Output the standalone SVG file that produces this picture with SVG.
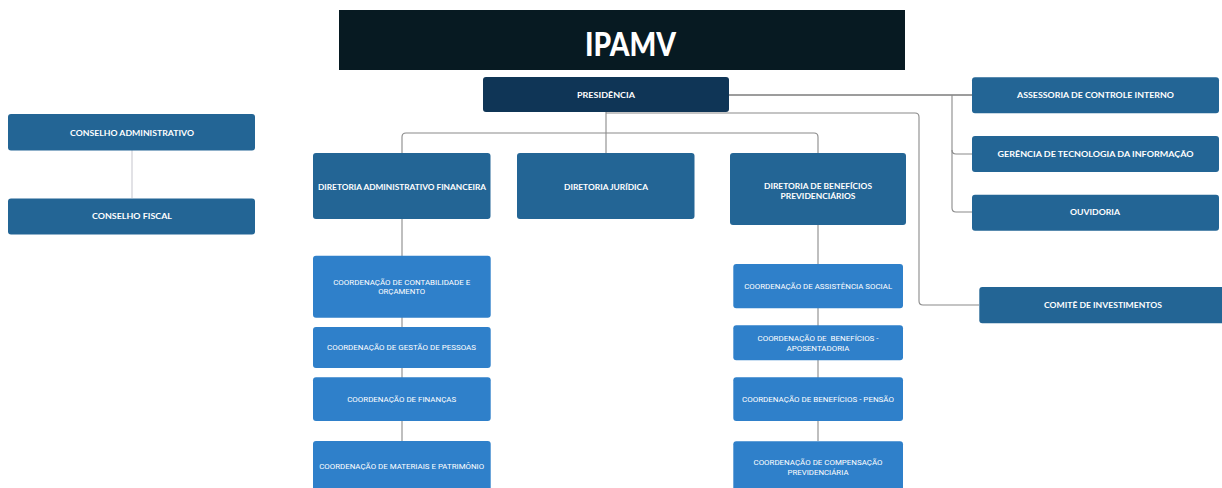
<svg xmlns="http://www.w3.org/2000/svg" width="1222" height="488" viewBox="0 0 1222 488">
<style>
.hdr{fill:#071a22}
.pres{fill:#0f3556}
.dk{fill:#236595}
.lt{fill:#2f80ca}
.t{font-family:Lato,"Noto Sans","Liberation Sans",sans-serif;font-weight:700;font-size:8px;fill:#ffffff;text-anchor:middle}
.c{font-family:Roboto,"Liberation Sans",sans-serif;font-weight:400;font-size:7.4px;fill:#ffffff;text-anchor:middle}
.ln{fill:none;stroke:#8a8a8a;stroke-width:1.1}
.lnd{fill:none;stroke:#3a3a3a;stroke-width:1}
.lnl{fill:none;stroke:#cfcfd6;stroke-width:1.2}
</style>
<rect width="1222" height="488" fill="#ffffff"/>
<g id="connectors">
<path class="lnl" d="M132,150 V198"/>
<path class="ln" d="M606,112 V153"/>
<path class="ln" d="M402,153 V137 Q402,133 406,133 H814 Q818,133 818,137 V153"/>
<path class="ln" d="M402,219 V441"/>
<path class="ln" d="M818,225 V441"/>
<path class="lnd" d="M729,95 H972"/>
<path class="ln" d="M952,95 V208 Q952,212 956,212 H972"/>
<path class="ln" d="M952,150 Q952,154 956,154 H972"/>
<path class="ln" d="M606,113 H915 Q919,113 919,117 V301 Q919,305 923,305 H979"/>
</g>
<g id="header">
<rect class="hdr" x="339" y="10" width="566" height="60"/>
<text x="630.5" y="56" textLength="91" lengthAdjust="spacingAndGlyphs" style="font-family:Lato,'Liberation Sans',sans-serif;font-weight:900;font-size:33px;fill:#ffffff;text-anchor:middle">IPAMV</text>
</g>
<g id="presidencia">
<rect class="pres" x="483" y="77" width="246" height="35" rx="3"/>
<text class="t" x="606" y="97.5" textLength="58" lengthAdjust="spacingAndGlyphs">PRESIDÊNCIA</text>
</g>
<g id="conselho-adm">
<rect class="dk" x="8" y="114" width="247" height="36.5" rx="3"/>
<text class="t" x="132" y="135.5" textLength="124" lengthAdjust="spacingAndGlyphs">CONSELHO ADMINISTRATIVO</text>
</g>
<g id="conselho-fiscal">
<rect class="dk" x="8" y="198.5" width="247" height="36" rx="3"/>
<text class="t" x="132" y="219.3" textLength="80" lengthAdjust="spacingAndGlyphs">CONSELHO FISCAL</text>
</g>
<g id="dir-adm">
<rect class="dk" x="313" y="153" width="177.5" height="66" rx="3"/>
<text class="t" x="402" y="189.5" textLength="168" lengthAdjust="spacingAndGlyphs">DIRETORIA ADMINISTRATIVO FINANCEIRA</text>
</g>
<g id="dir-jur">
<rect class="dk" x="517" y="153" width="177.5" height="66" rx="3"/>
<text class="t" x="606" y="189.5" textLength="84" lengthAdjust="spacingAndGlyphs">DIRETORIA JURÍDICA</text>
</g>
<g id="dir-ben">
<rect class="dk" x="730" y="153" width="176" height="72" rx="3"/>
<text class="t" x="818" y="189" textLength="108" lengthAdjust="spacingAndGlyphs">DIRETORIA DE BENEFÍCIOS</text>
<text class="t" x="818" y="199" textLength="75" lengthAdjust="spacingAndGlyphs">PREVIDENCIÁRIOS</text>
</g>
<g id="assessoria">
<rect class="dk" x="972" y="77.3" width="247" height="36" rx="3"/>
<text class="t" x="1095.5" y="97.7" textLength="157" lengthAdjust="spacingAndGlyphs">ASSESSORIA DE CONTROLE INTERNO</text>
</g>
<g id="gerencia-ti">
<rect class="dk" x="972" y="136" width="247" height="36" rx="3"/>
<text class="t" x="1095.5" y="156.5" textLength="196" lengthAdjust="spacingAndGlyphs">GERÊNCIA DE TECNOLOGIA DA INFORMAÇÃO</text>
</g>
<g id="ouvidoria">
<rect class="dk" x="972" y="194.7" width="247" height="36" rx="3"/>
<text class="t" x="1095" y="215.2" textLength="50" lengthAdjust="spacingAndGlyphs">OUVIDORIA</text>
</g>
<g id="comite">
<rect class="dk" x="979.3" y="287" width="246" height="36.3" rx="3"/>
<text class="t" x="1103" y="308" textLength="118" lengthAdjust="spacingAndGlyphs">COMITÊ DE INVESTIMENTOS</text>
</g>
<g id="coord-contabilidade">
<rect class="lt" x="313" y="255.7" width="177.7" height="62" rx="3"/>
<text class="c" x="401.7" y="284.7" textLength="137" lengthAdjust="spacingAndGlyphs">COORDENAÇÃO DE CONTABILIDADE E</text>
<text class="c" x="401.7" y="294.2" textLength="47" lengthAdjust="spacingAndGlyphs">ORÇAMENTO</text>
</g>
<g id="coord-gestao-pessoas">
<rect class="lt" x="313" y="327" width="177.7" height="41" rx="3"/>
<text class="c" x="401.5" y="350.2" textLength="149" lengthAdjust="spacingAndGlyphs">COORDENAÇÃO DE GESTÃO DE PESSOAS</text>
</g>
<g id="coord-financas">
<rect class="lt" x="313" y="377.3" width="177.7" height="43.7" rx="3"/>
<text class="c" x="401.7" y="401.5" textLength="109" lengthAdjust="spacingAndGlyphs">COORDENAÇÃO DE FINANÇAS</text>
</g>
<g id="coord-materiais">
<rect class="lt" x="313" y="441" width="177.7" height="52" rx="3"/>
<text class="c" x="401.7" y="469.2" textLength="165" lengthAdjust="spacingAndGlyphs">COORDENAÇÃO DE MATERIAIS E PATRIMÔNIO</text>
</g>
<g id="coord-assistencia">
<rect class="lt" x="733.3" y="264" width="169.7" height="44.3" rx="3"/>
<text class="c" x="818.2" y="288.5" textLength="148" lengthAdjust="spacingAndGlyphs">COORDENAÇÃO DE ASSISTÊNCIA SOCIAL</text>
</g>
<g id="coord-aposentadoria">
<rect class="lt" x="733.3" y="325.3" width="169.7" height="35" rx="3"/>
<text class="c" x="818" y="341.2" textLength="121" lengthAdjust="spacingAndGlyphs" xml:space="preserve">COORDENAÇÃO DE  BENEFÍCIOS -</text>
<text class="c" x="818" y="350.5" textLength="63" lengthAdjust="spacingAndGlyphs">APOSENTADORIA</text>
</g>
<g id="coord-pensao">
<rect class="lt" x="733.3" y="377.3" width="169.7" height="43.7" rx="3"/>
<text class="c" x="818" y="401.5" textLength="152" lengthAdjust="spacingAndGlyphs">COORDENAÇÃO DE BENEFÍCIOS - PENSÃO</text>
</g>
<g id="coord-compensacao">
<rect class="lt" x="733.3" y="441.3" width="169.7" height="52" rx="3"/>
<text class="c" x="818" y="465.2" textLength="129" lengthAdjust="spacingAndGlyphs">COORDENAÇÃO DE COMPENSAÇÃO</text>
<text class="c" x="818" y="474.5" textLength="61" lengthAdjust="spacingAndGlyphs">PREVIDENCIÁRIA</text>
</g>
</svg>
